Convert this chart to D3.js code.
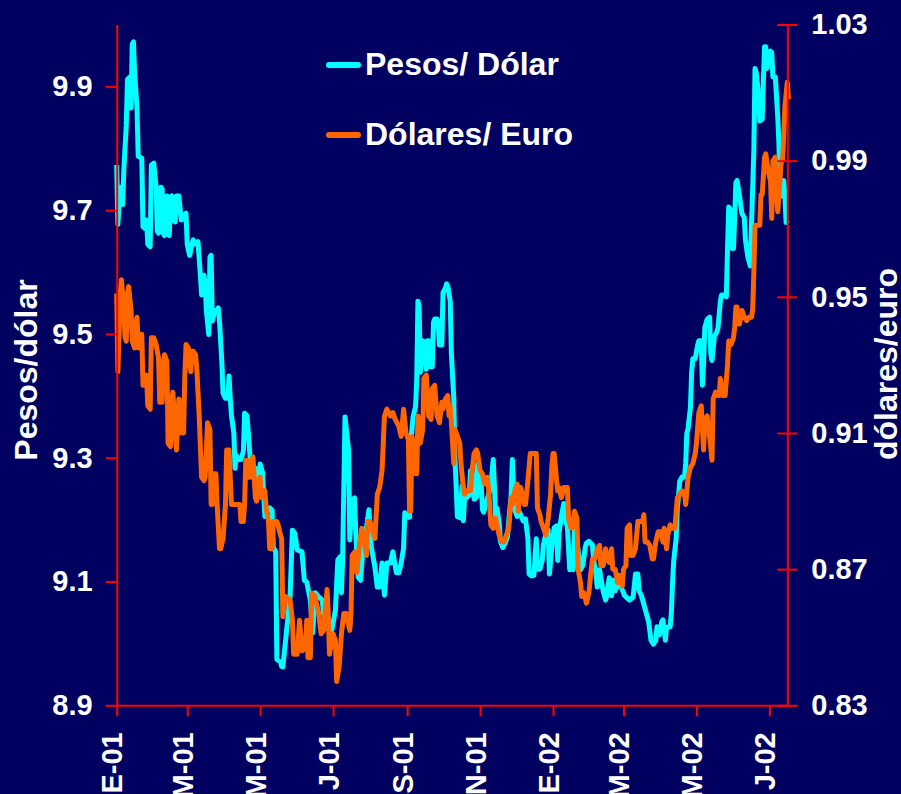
<!DOCTYPE html>
<html>
<head>
<meta charset="utf-8">
<script src="https://cdn.jsdelivr.net/npm/d3@7"></script>
<style>
  body { margin: 0; background: #000060; }
  svg { display: block; }
  text { font-family: "Liberation Sans", Arial, sans-serif; font-weight: bold; fill: #fff; }
</style>
</head>
<body>
<div id="chart-area"></div>
<script>
// days counted from 1-Jan-2001
var pesoDays = [0,1,3,5,6,8,9,11,12,13,14,15,17,18,21,22,24,25,26,28,29,31,33,34,35,37,38,39,40,41,42,44,45,46,47,49,50,52,54,56,58,59,61,63,64,66,68,70,71,73,74,75,77,78,79,80,82,84,85,86,88,89,91,93,94,95,96,98,99,100,102,104,106,107,109,110,112,113,114,116,117,119,120,122,123,124,126,128,130,131,133,134,137,138,139,145,147,149,151,155,157,159,162,164,166,169,172,173,176,180,183,185,187,188,189,191,194,195,197,199,200,202,204,206,209,211,213,216,218,220,222,224,226,229,231,234,236,238,240,241,244,245,246,248,250,251,252,253,254,256,258,259,260,261,262,264,265,266,268,269,270,272,273,275,276,277,279,280,282,283,284,285,287,289,290,291,293,295,296,298,299,301,302,303,305,306,307,309,311,313,315,316,317,318,320,321,323,325,327,328,330,331,332,333,335,337,340,342,344,345,347,349,351,352,354,356,357,359,361,362,364,366,368,369,370,372,374,375,377,379,380,382,383,385,386,388,390,392,393,395,398,399,401,402,404,405,407,409,410,412,414,415,417,419,420,422,425,429,432,434,436,437,439,442,445,447,449,451,452,454,456,457,459,460,463,464,465,466,468,469,470,471,473,475,476,477,478,480,481,482,484,486,487,489,490,491,492,494,496,497,498,500,502,503,505,506,508,510,511,512,513,515,516,518,519,521,523,525,526,528,530,531,533,534,535,537,538,540,541,542,543,544,545,547,548,549,551,553,554,555,557,558,559,560,561];
var pesoValues = [9.773,9.677,9.737,9.709,9.766,9.837,9.911,9.915,9.865,9.968,9.972,9.922,9.865,9.787,9.784,9.673,9.670,9.684,9.645,9.641,9.773,9.776,9.737,9.666,9.663,9.737,9.734,9.663,9.659,9.716,9.723,9.659,9.720,9.723,9.684,9.681,9.723,9.723,9.684,9.691,9.695,9.645,9.627,9.645,9.652,9.645,9.649,9.595,9.563,9.595,9.581,9.538,9.499,9.624,9.627,9.521,9.538,9.538,9.542,9.521,9.453,9.404,9.396,9.396,9.432,9.396,9.368,9.340,9.283,9.304,9.297,9.297,9.311,9.372,9.368,9.343,9.290,9.269,9.269,9.283,9.233,9.262,9.290,9.276,9.240,9.205,9.215,9.219,9.215,9.155,9.148,8.974,8.970,8.963,8.962,9.075,9.183,9.178,9.151,9.148,9.102,9.099,9.070,9.017,9.082,9.075,9.070,9.049,9.026,9.022,9.054,9.135,9.140,9.082,9.135,9.366,9.312,9.167,9.232,9.235,9.178,9.107,9.102,9.151,9.188,9.216,9.156,9.123,9.091,9.091,9.130,9.078,9.130,9.130,9.148,9.114,9.114,9.130,9.154,9.211,9.204,9.204,9.325,9.367,9.382,9.425,9.553,9.545,9.438,9.489,9.468,9.443,9.489,9.489,9.447,9.447,9.518,9.524,9.524,9.518,9.482,9.482,9.567,9.574,9.581,9.577,9.553,9.468,9.396,9.297,9.254,9.205,9.203,9.254,9.198,9.233,9.236,9.240,9.279,9.276,9.233,9.236,9.290,9.269,9.254,9.216,9.212,9.226,9.240,9.254,9.297,9.254,9.205,9.219,9.195,9.165,9.155,9.162,9.173,9.198,9.240,9.297,9.253,9.216,9.205,9.212,9.198,9.201,9.169,9.112,9.109,9.110,9.169,9.120,9.120,9.134,9.159,9.177,9.183,9.112,9.155,9.187,9.190,9.134,9.177,9.205,9.226,9.198,9.190,9.119,9.141,9.119,9.190,9.165,9.151,9.119,9.127,9.155,9.162,9.165,9.159,9.134,9.112,9.091,9.119,9.106,9.084,9.070,9.077,9.106,9.077,9.102,9.085,9.095,9.110,9.091,9.077,9.070,9.075,9.112,9.112,9.085,9.077,9.056,9.035,9.005,8.999,9.005,9.027,9.014,9.035,9.038,9.005,9.026,9.027,9.049,9.098,9.134,9.169,9.219,9.237,9.262,9.269,9.269,9.290,9.340,9.347,9.382,9.439,9.460,9.460,9.482,9.489,9.489,9.417,9.453,9.510,9.524,9.527,9.468,9.457,9.496,9.503,9.509,9.553,9.563,9.563,9.560,9.638,9.705,9.702,9.638,9.638,9.744,9.748,9.723,9.695,9.688,9.652,9.624,9.610,9.673,9.794,9.929,9.922,9.886,9.844,9.847,9.908,9.964,9.964,9.929,9.942,9.957,9.954,9.915,9.915,9.851,9.808,9.723,9.723,9.748,9.723,9.680,9.684];

var euroDays = [0,1,3,4,6,7,8,9,10,12,13,15,16,17,18,20,21,22,24,25,26,28,29,31,33,35,36,38,39,40,42,43,45,46,47,49,50,52,53,54,56,57,58,60,62,63,64,66,67,69,71,73,74,76,78,79,80,81,83,84,86,87,89,91,92,93,94,96,98,100,103,104,106,107,108,109,111,113,114,116,117,118,120,121,123,124,125,127,128,130,131,132,134,135,137,138,139,141,145,147,148,151,153,155,158,159,160,162,163,166,167,169,171,173,176,177,178,181,183,184,186,188,190,192,195,196,197,199,201,203,205,208,209,210,212,214,216,218,220,222,224,226,229,231,233,236,238,240,242,244,245,246,247,248,250,251,252,254,256,257,259,261,263,264,266,268,270,272,273,275,277,278,279,280,282,283,285,287,288,290,291,293,296,297,299,301,302,304,306,307,308,310,311,313,315,317,318,320,322,324,326,328,330,331,333,335,336,337,338,341,342,344,346,347,349,351,352,354,355,357,359,361,363,364,365,366,368,369,370,372,374,375,377,378,380,381,383,385,386,388,389,391,393,395,397,398,400,402,404,405,407,409,410,412,414,415,417,419,421,423,424,426,427,429,430,432,434,436,437,440,441,442,444,446,448,449,451,453,455,457,458,460,461,463,465,467,469,470,471,473,475,476,478,480,482,484,485,487,489,490,491,492,494,495,496,498,499,501,503,504,505,507,509,511,512,514,516,517,518,519,521,523,525,527,529,531,532,533,534,536,538,539,540,542,543,545,547,548,549,551,552,553,555,556,557,558,559,561,562];
var euroValues = [0.951,0.928,0.951,0.955,0.946,0.938,0.937,0.951,0.953,0.946,0.937,0.935,0.942,0.944,0.935,0.938,0.939,0.924,0.924,0.927,0.918,0.917,0.938,0.938,0.936,0.932,0.919,0.919,0.931,0.933,0.931,0.907,0.906,0.919,0.922,0.910,0.905,0.920,0.919,0.910,0.910,0.927,0.936,0.935,0.928,0.934,0.934,0.933,0.929,0.915,0.897,0.896,0.897,0.913,0.911,0.889,0.889,0.898,0.898,0.889,0.876,0.876,0.879,0.889,0.905,0.905,0.905,0.889,0.889,0.889,0.889,0.884,0.884,0.889,0.902,0.902,0.897,0.902,0.903,0.891,0.890,0.896,0.897,0.891,0.893,0.893,0.888,0.884,0.876,0.876,0.884,0.884,0.884,0.883,0.880,0.879,0.856,0.862,0.861,0.855,0.845,0.845,0.855,0.846,0.847,0.855,0.844,0.844,0.863,0.862,0.860,0.857,0.851,0.852,0.864,0.857,0.845,0.851,0.849,0.837,0.841,0.851,0.857,0.857,0.852,0.857,0.874,0.875,0.869,0.877,0.882,0.876,0.874,0.884,0.884,0.881,0.879,0.892,0.894,0.899,0.915,0.917,0.915,0.916,0.914,0.912,0.909,0.917,0.910,0.908,0.887,0.887,0.909,0.907,0.898,0.898,0.915,0.907,0.911,0.926,0.927,0.915,0.914,0.923,0.924,0.915,0.913,0.919,0.917,0.920,0.921,0.915,0.918,0.913,0.901,0.911,0.909,0.907,0.901,0.894,0.892,0.893,0.893,0.898,0.904,0.905,0.904,0.899,0.898,0.896,0.895,0.897,0.894,0.883,0.882,0.885,0.883,0.880,0.878,0.878,0.880,0.882,0.891,0.889,0.893,0.895,0.887,0.894,0.894,0.889,0.889,0.896,0.904,0.904,0.904,0.904,0.888,0.886,0.884,0.882,0.880,0.885,0.892,0.900,0.904,0.904,0.896,0.893,0.894,0.891,0.894,0.894,0.894,0.885,0.882,0.882,0.887,0.885,0.870,0.866,0.862,0.863,0.860,0.863,0.870,0.873,0.873,0.876,0.877,0.871,0.871,0.876,0.873,0.872,0.876,0.870,0.870,0.866,0.868,0.865,0.870,0.871,0.882,0.883,0.874,0.874,0.876,0.884,0.884,0.884,0.886,0.878,0.878,0.877,0.873,0.873,0.878,0.881,0.881,0.878,0.882,0.876,0.880,0.883,0.882,0.882,0.891,0.891,0.892,0.893,0.892,0.889,0.897,0.900,0.901,0.904,0.907,0.916,0.918,0.911,0.905,0.914,0.915,0.911,0.909,0.902,0.920,0.922,0.921,0.921,0.926,0.921,0.921,0.930,0.937,0.936,0.938,0.941,0.947,0.947,0.942,0.946,0.944,0.943,0.944,0.944,0.946,0.957,0.971,0.971,0.971,0.980,0.980,0.991,0.992,0.987,0.984,0.973,0.990,0.991,0.981,0.975,0.985,0.990,0.990,0.997,1.006,1.013,1.008];

var pesoTicks = [8.9, 9.1, 9.3, 9.5, 9.7, 9.9];
var euroTicks = [0.83, 0.87, 0.91, 0.95, 0.99, 1.03];
var monthTicks = ["2001-01-01","2001-03-01","2001-05-01","2001-07-01","2001-09-01","2001-11-01","2002-01-01","2002-03-01","2002-05-01","2002-07-01"];
var monthLabels = ["E-01","M-01","M-01","J-01","S-01","N-01","E-02","M-02","M-02","J-02"];
var seriesNames = ["Pesos/ Dólar", "Dólares/ Euro"];
var seriesColors = ["#00ffff", "#ff6600"];

var width = 901, height = 794;
var plot = {left: 116.7, right: 787.3, top: 24.5, bottom: 705.3};

var svg = d3.select("#chart-area")
    .append("svg")
        .attr("width", width)
        .attr("height", height);

svg.append("rect")
    .attr("width", width)
    .attr("height", height)
    .attr("fill", "#000060");

var parseDate = d3.timeParse("%Y-%m-%d");
var startDate = new Date(2001, 0, 1);

var x = d3.scaleTime()
    .domain([startDate, new Date(2002, 6, 16)])
    .range([plot.left, plot.right]);

var yPeso = d3.scaleLinear()
    .domain([8.9, 10.0])
    .range([plot.bottom, plot.top]);

var yEuro = d3.scaleLinear()
    .domain([0.83, 1.03])
    .range([plot.bottom, plot.top]);

var pesoData = pesoDays.map(function(d, i){
    return {date: d3.timeDay.offset(startDate, d), value: pesoValues[i]};
});
var euroData = euroDays.map(function(d, i){
    return {date: d3.timeDay.offset(startDate, d), value: euroValues[i]};
});

// lines: cyan underneath, orange on top
var pesoLine = d3.line()
    .x(function(d){ return x(d.date); })
    .y(function(d){ return yPeso(d.value); });
var euroLine = d3.line()
    .x(function(d){ return x(d.date); })
    .y(function(d){ return yEuro(d.value); });

svg.append("path")
    .datum(pesoData)
    .attr("d", pesoLine)
    .attr("fill", "none")
    .attr("stroke", seriesColors[0])
    .attr("stroke-width", 5)
    .attr("stroke-linejoin", "round");

svg.append("path")
    .datum(euroData)
    .attr("d", euroLine)
    .attr("fill", "none")
    .attr("stroke", seriesColors[1])
    .attr("stroke-width", 5)
    .attr("stroke-linejoin", "round");

// axes
function styleAxis(g){
    g.attr("font-family", null).attr("font-size", null);
    g.selectAll("path, line").attr("stroke", "#ff0000").attr("stroke-width", 2);
    g.selectAll("text").attr("fill", "#fff").style("font-size", "29px");
}

var leftAxis = svg.append("g")
    .attr("transform", "translate(" + plot.left + ",0)")
    .call(d3.axisLeft(yPeso)
        .tickValues(pesoTicks)
        .tickSize(11)
        .tickSizeOuter(0)
        .tickPadding(13)
        .tickFormat(d3.format(".1f")));
styleAxis(leftAxis);

var rightAxis = svg.append("g")
    .attr("transform", "translate(" + plot.right + ",0)")
    .call(d3.axisRight(yEuro)
        .tickValues(euroTicks)
        .tickSize(10)
        .tickSizeOuter(0)
        .tickPadding(14)
        .tickFormat(d3.format(".2f")));
styleAxis(rightAxis);
rightAxis.selectAll(".tick line").attr("x1", -10);

var bottomAxis = svg.append("g")
    .attr("transform", "translate(0," + plot.bottom + ")")
    .call(d3.axisBottom(x)
        .tickValues(monthTicks.map(parseDate))
        .tickSize(11)
        .tickSizeOuter(0)
        .tickFormat(function(d, i){ return monthLabels[i]; }));
styleAxis(bottomAxis);
bottomAxis.selectAll("text")
    .attr("transform", "rotate(-90)")
    .attr("text-anchor", "end")
    .attr("x", -27)
    .attr("y", -5)
    .attr("dy", "0.35em");

// axis titles
svg.append("text")
    .attr("transform", "translate(37,370) rotate(-90)")
    .attr("text-anchor", "middle")
    .attr("font-size", "32px")
    .text("Pesos/dólar");

svg.append("text")
    .attr("transform", "translate(897,364) rotate(-90)")
    .attr("text-anchor", "middle")
    .attr("font-size", "32px")
    .text("dólares/euro");

// legend
var legend = svg.append("g");
[65, 135].forEach(function(ly, i){
    legend.append("line")
        .attr("x1", 329).attr("x2", 358)
        .attr("y1", ly).attr("y2", ly)
        .attr("stroke", seriesColors[i])
        .attr("stroke-width", 6)
        .attr("stroke-linecap", "round");
    legend.append("text")
        .attr("x", 365)
        .attr("y", ly + 10)
        .attr("font-size", "32px")
        .text(seriesNames[i]);
});
</script>
</body>
</html>
